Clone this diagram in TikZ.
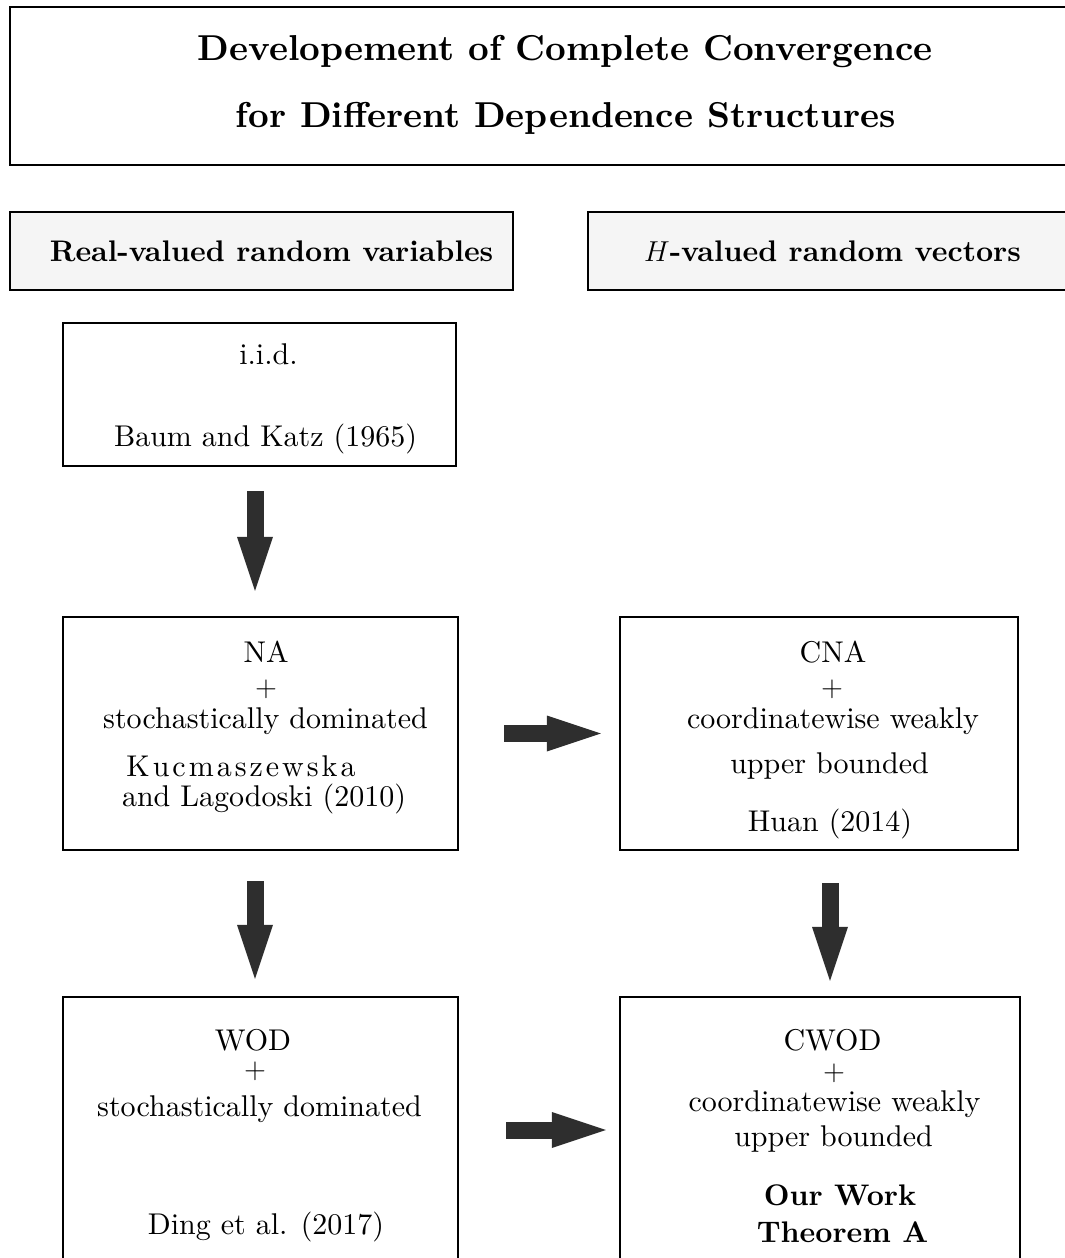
\documentclass[tikz,border=0pt]{standalone}
\usepackage{fontspec}
\setmainfont{lmroman10-regular.otf}[BoldFont=lmroman10-bold.otf,
  ItalicFont=lmroman10-italic.otf]
\usetikzlibrary{arrows.meta,fit}
\definecolor{arrowgray}{HTML}{2E2E2E}
\tikzset{
  box/.style={draw=black, line width=1.2pt, inner sep=0pt},
  headbox/.style={box, fill=gray!8},
  txt/.style={inner sep=0pt, anchor=mid, font=\fontsize{15}{18}\selectfont},
  btxt/.style={inner sep=0pt, anchor=mid, font=\fontsize{14.9}{18}\selectfont\bfseries},
  ttxt/.style={inner sep=0pt, anchor=mid, font=\fontsize{18}{22}\selectfont\bfseries},
  bigarrow/.style={draw=arrowgray, line width=8.5pt,
    -{Triangle[width=18pt,length=27pt,line width=0pt]}},
}
\begin{document}
\begin{tikzpicture}[x=0.5pt, y=-0.5pt]
\useasboundingbox (0,0) rectangle (1065,1258);
\clip (0,0) rectangle (1065,1258);

% title
\node[box, fit={(10,7) (1085,165)}] (title) {};
\node[ttxt] (title1) at (565,56) {Developement of Complete Convergence};
\node[ttxt] (title2) at (566,123) {for Different Dependence Structures};

% column heads
\node[headbox, fit={(10,212) (513,290)}] (real) {};
\node[btxt] (realt) at (271.5,257) {Real-valued random variables};
\node[headbox, fit={(588,212) (1085,290)}] (hval) {};
\node[btxt] (hvalt) at (832.5,257) {$H$-valued random vectors};

% boxes
\node[box, fit={(63,323) (456,466)}] (iid) {};
\node[box, fit={(63,617) (458,850)}] (na) {};
\node[box, fit={(620,617) (1018,850)}] (cna) {};
\node[box, fit={(63,997) (458,1263)}] (wod) {};
\node[box, fit={(620,997) (1020,1263)}] (cwod) {};

% i.i.d.
\node[txt] (iid1) at (268.5,360) {i.i.d.};
\node[txt] (iid2) at (265.5,442) {Baum and Katz (1965)};

% NA
\node[txt] (na1) at (266,658) {NA};
\node[txt] (na2) at (266,692) {$+$};
\node[txt] (na3) at (265.5,724) {stochastically dominated};
\node[txt] (na4) at (241,772) {\addfontfeature{LetterSpace=10}Kucmaszewska};
\node[txt] (na5) at (264,802) {and Lagodoski (2010)};

% CNA
\node[txt] (cna1) at (833,658) {CNA};
\node[txt] (cna2) at (832,692) {$+$};
\node[txt] (cna3) at (833,724) {coordinatewise weakly};
\node[txt] (cna4) at (829.5,769) {upper bounded};
\node[txt] (cna5) at (830,827) {Huan (2014)};

% WOD
\node[txt] (wod1) at (253,1046) {WOD};
\node[txt] (wod2) at (255,1074) {$+$};
\node[txt] (wod3) at (259.5,1112) {stochastically dominated};
\node[txt] (wod4) at (266,1230) {Ding et al. (2017)};

% CWOD
\node[txt] (cwod1) at (832.5,1046) {CWOD};
\node[txt] (cwod2) at (834,1076) {$+$};
\node[txt] (cwod3) at (834.5,1107) {coordinatewise weakly};
\node[txt] (cwod4) at (833.5,1142) {upper bounded};
\node[btxt] (cwod5) at (840,1201) {Our Work};
\node[btxt] (cwod6) at (842.5,1238) {Theorem A};

% arrows
\draw[bigarrow, shorten <=12pt, shorten >=12.5pt]
  ([xshift=-2.25pt]iid.south) -- ([xshift=-2.25pt]iid.south |- na.north);
\draw[bigarrow, shorten <=15pt, shorten >=8.5pt]
  ([xshift=-2.75pt]na.south) -- ([xshift=-2.75pt]na.south |- wod.north);
\draw[bigarrow, shorten <=16pt, shorten >=7.5pt]
  ([xshift=5.5pt]cna.south) -- ([xshift=5.5pt]cna.south |- cwod.north);
\draw[bigarrow, shorten <=22.5pt, shorten >=9pt] (na) -- (cna);
\draw[bigarrow, shorten <=23.5pt, shorten >=6.5pt] (wod) -- (cwod);
\end{tikzpicture}
\end{document}
